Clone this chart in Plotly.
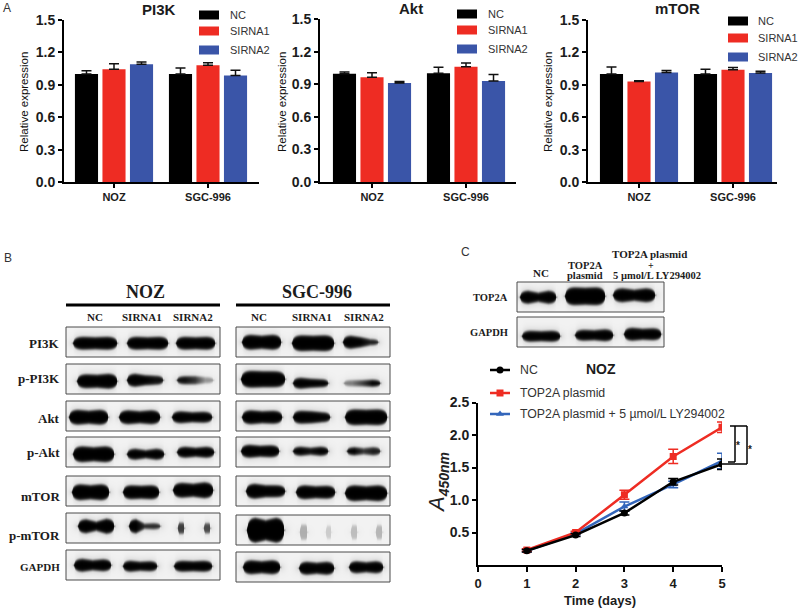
import numpy as np
import plotly.graph_objects as go

# ------------------------- DATA -------------------------
CELL_LINES = ["NOZ", "SGC-996"]
SERIES = ["NC", "SIRNA1", "SIRNA2"]
COLORS = ["#000000", "#EE2C23", "#3A55A8"]

PI3K_VALUES = [[1.00, 1.00], [1.045, 1.08], [1.09, 0.985]]
PI3K_ERRORS = [[0.03, 0.055], [0.05, 0.025], [0.02, 0.05]]
AKT_VALUES = [[0.997, 1.00], [0.965, 1.06], [0.91, 0.93]]
AKT_ERRORS = [[0.015, 0.055], [0.04, 0.035], [0.015, 0.06]]
MTOR_VALUES = [[1.00, 1.00], [0.93, 1.04], [1.015, 1.01]]
MTOR_ERRORS = [[0.065, 0.045], [0.008, 0.02], [0.018, 0.015]]

DAYS = [1, 2, 3, 4, 5]
CURVE_NAMES = ["NC", "TOP2A plasmid", "TOP2A plasmid + 5 µmol/L LY294002"]
NC_CURVE = [0.22, 0.46, 0.80, 1.28, 1.55]
NC_ERR = [0.02, 0.02, 0.03, 0.05, 0.08]
PLASMID_CURVE = [0.23, 0.50, 1.08, 1.67, 2.12]
PLASMID_ERR = [0.02, 0.02, 0.07, 0.11, 0.08]
INHIB_CURVE = [0.22, 0.48, 0.90, 1.24, 1.60]
INHIB_ERR = [0.02, 0.02, 0.07, 0.05, 0.12]

ROW_LABELS = ["PI3K", "p-PI3K", "Akt", "p-Akt", "mTOR", "p-mTOR", "GAPDH"]

# ------------------------- LAYOUT HELPERS -------------------------
W, H = 800, 609
SANS = "Liberation Sans"
SERIF = "Liberation Serif"
INK = "#1c1c1c"


def fx(p):
    return p / W


def fy(p):
    return 1 - p / H


annotations, shapes = [], []


def text(x, y, s, size=11, bold=False, family=SANS, anchor="center", angle=0, color=INK):
    annotations.append(dict(
        x=fx(x), y=fy(y), xref="paper", yref="paper", text=s, showarrow=False,
        xanchor=anchor, yanchor="middle", textangle=angle,
        font=dict(family=family, size=size, color=color, weight="bold" if bold else "normal"),
    ))


def rule(x0, y0, x1, y1, width=1.5, color="#000000"):
    shapes.append(dict(type="line", xref="paper", yref="paper",
                       x0=fx(x0), y0=fy(y0), x1=fx(x1), y1=fy(y1),
                       line=dict(color=color, width=width)))


def box(x0, y0, x1, y1, fill=None, line=None, width=1.0):
    shapes.append(dict(type="rect", xref="paper", yref="paper",
                       x0=fx(x0), y0=fy(y0), x1=fx(x1), y1=fy(y1),
                       fillcolor=fill if fill else "rgba(0,0,0,0)",
                       line=dict(color=line if line else "rgba(0,0,0,0)", width=width)))


fig = go.Figure()

# ------------------------- PANEL A -------------------------
PANELS = [
    dict(name="PI3K", vals=PI3K_VALUES, errs=PI3K_ERRORS, ax=("x", "y"), dom=(64, 259), top=20,
         centers=(114, 208), title=(159, 10), ylab=24, leg=(199, 228, [15, 31, 50])),
    dict(name="Akt", vals=AKT_VALUES, errs=AKT_ERRORS, ax=("x2", "y2"), dom=(320, 516), top=19,
         centers=(372, 466), title=(411, 9), ylab=282, leg=(457, 486, [14, 30, 49])),
    dict(name="mTOR", vals=MTOR_VALUES, errs=MTOR_ERRORS, ax=("x3", "y3"), dom=(588, 777), top=20,
         centers=(639, 733), title=(677, 9), ylab=548, leg=(728, 756, [21, 38, 57])),
]

layout_axes = {}
for i, p in enumerate(PANELS):
    for s, name in enumerate(SERIES):
        fig.add_trace(go.Bar(
            x=CELL_LINES, y=p["vals"][s], name=name, showlegend=False,
            marker=dict(color=COLORS[s], line=dict(width=0)),
            error_y=dict(type="data", symmetric=False, array=p["errs"][s],
                         arrayminus=[0, 0], color="#111111", thickness=1.5, width=5),
            xaxis=p["ax"][0], yaxis=p["ax"][1],
        ))
    unit = p["centers"][1] - p["centers"][0]
    suffix = "" if i == 0 else str(i + 1)
    layout_axes["xaxis" + suffix] = dict(
        domain=[fx(p["dom"][0]), fx(p["dom"][1])], anchor="y" + suffix, automargin=False,
        range=[(p["dom"][0] - p["centers"][0]) / unit, (p["dom"][1] - p["centers"][0]) / unit],
        type="category", showline=True, linecolor="#000", linewidth=2, ticks="outside",
        ticklen=4, tickwidth=2, tickcolor="#000", showgrid=False,
        tickfont=dict(family=SANS, size=11, color=INK, weight="bold"),
    )
    layout_axes["yaxis" + suffix] = dict(
        domain=[fy(182), fy(p["top"])], anchor="x" + suffix, range=[0, 1.5], dtick=0.3, automargin=False,
        tickformat=".1f", showline=True, linecolor="#000", linewidth=2, ticks="outside",
        ticklen=4, tickwidth=2, tickcolor="#000", showgrid=False, zeroline=False,
        tickfont=dict(family=SANS, size=14, color=INK, weight="bold"),
    )
    text(p["title"][0], p["title"][1], p["name"], size=15, bold=True)
    text(p["ylab"], 102, "Relative expression", size=11.5, angle=-90, color="#111")
    kx, tx, ys = p["leg"]
    for s, name in enumerate(SERIES):
        box(kx, ys[s] - 4.5, kx + 20, ys[s] + 4.5, fill=COLORS[s])
        text(tx, ys[s], name, size=11, anchor="left", color="#333")

# ------------------------- PANEL C CURVES -------------------------
CURVES = [
    (NC_CURVE, NC_ERR, "#000000", "circle"),
    (PLASMID_CURVE, PLASMID_ERR, "#EE2C23", "square"),
    (INHIB_CURVE, INHIB_ERR, "#3366BB", "triangle-up"),
]
for order in (2, 1, 0):
    vals, errs, col, sym = CURVES[order]
    fig.add_trace(go.Scatter(
        x=DAYS, y=vals, mode="lines+markers", name=CURVE_NAMES[order], showlegend=False,
        line=dict(color=col, width=2.5), marker=dict(color=col, symbol=sym, size=7),
        error_y=dict(type="data", array=errs, color=col, thickness=1.5, width=5),
        xaxis="x4", yaxis="y4",
    ))
layout_axes["xaxis4"] = dict(
    domain=[fx(478), fx(722)], anchor="y4", range=[0, 5], tickvals=[0, 1, 2, 3, 4, 5], automargin=False,
    showline=True, linecolor="#000", linewidth=2, ticks="outside", ticklen=5, tickwidth=2,
    tickcolor="#000", showgrid=False, zeroline=False,
    tickfont=dict(family=SANS, size=13, color=INK, weight="bold"),
)
layout_axes["yaxis4"] = dict(
    domain=[fy(565), fy(402.5)], anchor="x4", range=[0, 2.5], automargin=False,
    tickvals=[0.5, 1.0, 1.5, 2.0, 2.5], tickformat=".1f",
    showline=True, linecolor="#000", linewidth=2, ticks="outside", ticklen=4, tickwidth=2,
    tickcolor="#000", showgrid=False, zeroline=False,
    tickfont=dict(family=SANS, size=14, color=INK, weight="bold"),
)
text(600, 600, "Time (days)", size=13, bold=True)
text(601, 369, "NOZ", size=14, bold=True)
text(438, 483, "<i>A<sub><span style='font-size:14px'><b>450nm</b></span></sub></i>", size=22, angle=-90, color="#222")

# pixel-space overlay axes: legend keys and blot images
layout_axes["xaxis5"] = dict(domain=[0, 1], anchor="y5", range=[0, W], visible=False, fixedrange=True, automargin=False)
layout_axes["yaxis5"] = dict(domain=[0, 1], anchor="x5", range=[H, 0], visible=False, fixedrange=True, automargin=False)

KEY_Y = [370, 393, 414]
for (vals, errs, col, sym), name, y in zip(CURVES, CURVE_NAMES, KEY_Y):
    rule(490, y, 510, y, width=2.5, color=col)
    fig.add_trace(go.Scatter(x=[500], y=[y], mode="markers", showlegend=False, hoverinfo="skip",
                             marker=dict(color=col, symbol=sym, size=7), xaxis="x5", yaxis="y5"))
    text(518, y, name, size=12.3, anchor="left", color="#333")

# significance brackets
rule(730, 426, 747, 426)
rule(747, 426, 747, 464)
rule(747, 464, 722, 464)
rule(735, 426, 735, 462)
rule(735, 462, 728, 462)
text(738, 445, "*", size=10, bold=True)
text(750, 449, "*", size=10, bold=True)

# ------------------------- BLOTS -------------------------
# band: x0, x1, y-centre, thickness (left, mid, right), darkness (left, mid, right)
NOZ_X = (66, 220)
SGC_X = (236, 390)
BLOT_BOXES = [
    (NOZ_X, 327, 357, [(73, 117, 343, 12, 11, 12, 1, 1, 1), (127, 168, 343, 12, 11, 12, 1, 1, 1), (176, 215, 343, 12, 11, 12, 1, 1, 1)]),
    (SGC_X, 327, 357, [(242, 281, 342, 14, 12, 14, 1, 1, 1), (292, 334, 343, 15, 14, 15, 1, 1, 1), (343, 378, 342, 12, 9, 5, 1, 1, .9)]),
    (NOZ_X, 364, 394, [(77, 117, 381, 13, 12, 14, 1, 1, 1), (127, 163, 380, 12, 9, 8, 1, 1, .95), (177, 213, 380, 7, 7, 5, .95, .8, .4)]),
    (SGC_X, 364, 394, [(241, 285, 379, 16, 15, 15, 1, 1, 1), (293, 328, 383, 10, 8, 7, 1, 1, 1), (344, 380, 383, 5, 5, 6, .5, .75, 1)]),
    (NOZ_X, 401, 431, [(69, 108, 417, 14, 12, 14, 1, 1, 1), (119, 160, 417, 13, 11, 13, 1, 1, 1), (172, 212, 417, 11, 9, 10, 1, 1, 1)]),
    (SGC_X, 401, 431, [(242, 282, 417, 13, 11, 12, 1, 1, 1), (293, 330, 417, 12, 11, 9, 1, 1, 1), (345, 387, 417, 15, 14, 15, 1, 1, 1)]),
    (NOZ_X, 437, 467, [(73, 114, 454, 15, 13, 15, 1, 1, 1), (127, 164, 454, 10, 7, 10, 1, 1, 1), (177, 214, 452, 10, 8, 10, 1, 1, 1)]),
    (SGC_X, 437, 467, [(241, 279, 451, 12, 10, 11, 1, 1, 1), (293, 328, 451, 8, 6, 8, 1, .95, 1), (347, 380, 451, 7, 5, 7, 1, .8, .9)]),
    (NOZ_X, 476, 506, [(72, 109, 492, 15, 13, 15, 1, 1, 1), (123, 159, 492, 13, 12, 13, 1, 1, 1), (173, 213, 490, 14, 12, 15, 1, 1, 1)]),
    (SGC_X, 476, 506, [(246, 285, 491, 14, 11, 11, 1, 1, 1), (296, 335, 492, 13, 11, 12, 1, 1, 1), (345, 387, 493, 15, 13, 15, 1, 1, 1)]),
    (NOZ_X, 513, 543, [(78, 114, 526, 13, 8, 14, 1, 1, 1), (129, 160, 526, 13, 4, 5, 1, .85, .85),
                       (178, 184, 528, 10, 10, 10, .75, .75, .75), (204, 210, 528, 9, 9, 9, .7, .7, .7)]),
    (SGC_X, 515, 545, [(247, 284, 530, 24, 19, 24, 1, 1, 1),
                       (300, 307, 532, 14, 14, 14, .28, .28, .28), (326, 331, 532, 12, 12, 12, .16, .16, .16),
                       (351, 357, 532, 13, 13, 13, .22, .22, .22), (376, 382, 532, 13, 13, 13, .25, .25, .25)]),
    (NOZ_X, 550, 580, [(74, 111, 565, 12, 9, 11, 1, 1, 1), (123, 157, 566, 10, 8, 9, 1, 1, 1), (174, 212, 566, 10, 9, 10, 1, 1, 1)]),
    (SGC_X, 552, 582, [(243, 280, 567, 13, 11, 13, 1, 1, 1), (299, 334, 568, 12, 10, 12, 1, 1, 1), (349, 383, 567, 11, 9, 11, 1, 1, 1)]),
    ((517, 664), 282, 312, [(520, 556, 297, 12, 8, 12, 1, 1, 1), (565, 605, 296, 17, 16, 17, 1, 1, 1), (613, 655, 295, 13, 10, 13, 1, 1, 1)]),
    ((517, 664), 317, 347, [(522, 560, 336, 10, 9, 10, 1, 1, 1), (575, 613, 335, 10, 9, 11, 1, 1, 1), (624, 661, 334, 12, 10, 11, 1, 1, 1)]),
]
BLOT_BG = 0.95


def blot_z(x0, x1, y0, y1, bands):
    xs = np.arange(x0 + 0.25, x1, 0.5)
    ys = np.arange(y0 + 0.25, y1, 0.5)
    X, Y = np.meshgrid(xs, ys)
    z = np.full(X.shape, BLOT_BG)
    for bx0, bx1, yc, tl, tm, tr, dl, dm, dr in bands:
        u = (X - bx0) / (bx1 - bx0)
        cu = np.clip(u, 0, 1)
        t = np.interp(cu, [0, 0.22, 0.5, 0.78, 1], [tl, tl, tm, tr, tr]) + 1.0
        dark = np.interp(cu, [0, 0.22, 0.5, 0.78, 1], [dl, dl, dm, dr, dr])
        h = t / 2 * np.sqrt(np.clip(1 - np.abs(2 * cu - 1) ** 6, 0, 1))
        d_in = np.abs(Y - yc) - h
        dx = np.maximum(0, np.maximum(bx0 - X, X - bx1))
        d = np.hypot(dx, np.maximum(d_in, 0)) + np.minimum(d_in, 0)
        a = 1 / (1 + np.exp(np.clip(d / 0.9, -30, 30)))
        halo = 0.16 * np.exp(-np.maximum(d, 0) / 3.0) * dark
        z = np.minimum(z, BLOT_BG * (1 - np.maximum(a * dark, halo)))
    return xs, ys, z


for (bx, y0, y1, bands) in BLOT_BOXES:
    xs, ys, z = blot_z(bx[0], bx[1], y0, y1, bands)
    fig.add_trace(go.Heatmap(x=xs, y=ys, z=z.astype("float32"), zmin=0, zmax=1, showscale=False,
                             hoverinfo="skip",
                             colorscale=[[0, "#000000"], [1, "#ffffff"]], xaxis="x5", yaxis="y5"))
    box(bx[0], y0, bx[1], y1, line="#4a4a4a", width=1)

# blot headers and labels
text(145, 292, "NOZ", size=18, bold=True, family=SERIF)
text(317, 292, "SGC-996", size=18, bold=True, family=SERIF)
rule(66, 305, 220, 305, width=3)
rule(236, 305, 390, 305, width=3)
for x, s in zip([95, 142, 193, 259, 312, 364], SERIES + SERIES):
    text(x, 317, s, size=11, bold=True, family=SERIF)
ROW_Y = [343, 378, 418, 452, 496, 535, 567]
ROW_SIZE = [13, 13, 13, 13, 13, 13, 11]
for y, s, sz in zip(ROW_Y, ROW_LABELS, ROW_SIZE):
    text(62, y, s, size=sz, bold=True, family=SERIF, anchor="right")

text(541, 273, "NC", size=11, bold=True, family=SERIF)
text(585, 265, "TOP2A", size=10.5, bold=True, family=SERIF)
text(585, 275, "plasmid", size=10.5, bold=True, family=SERIF)
text(649, 254, "TOP2A plasmid", size=11, bold=True, family=SERIF)
text(651, 265, "+", size=10, bold=True, family=SERIF)
text(657, 275, "5 µmol/L LY294002", size=10.5, bold=True, family=SERIF)
text(510, 297, "TOP2A", size=10.5, bold=True, family=SERIF, anchor="right")
text(510, 332, "GAPDH", size=10.5, bold=True, family=SERIF, anchor="right")

# panel letters
text(7, 8, "A", size=12, color="#333")
text(8, 258, "B", size=12, color="#333")
text(465, 252, "C", size=12, color="#333")

fig.update_layout(
    width=W, height=H, margin=dict(l=0, r=0, t=0, b=0, pad=0), autosize=False,
    paper_bgcolor="white", plot_bgcolor="rgba(0,0,0,0)", showlegend=False,
    barmode="group", bargap=0.122, bargroupgap=0.16,
    annotations=annotations, shapes=shapes, **layout_axes,
)
fig.write_html("out.html", config=dict(displayModeBar=False),
               post_script="document.body.style.margin='0';document.documentElement.style.overflow='hidden';")
